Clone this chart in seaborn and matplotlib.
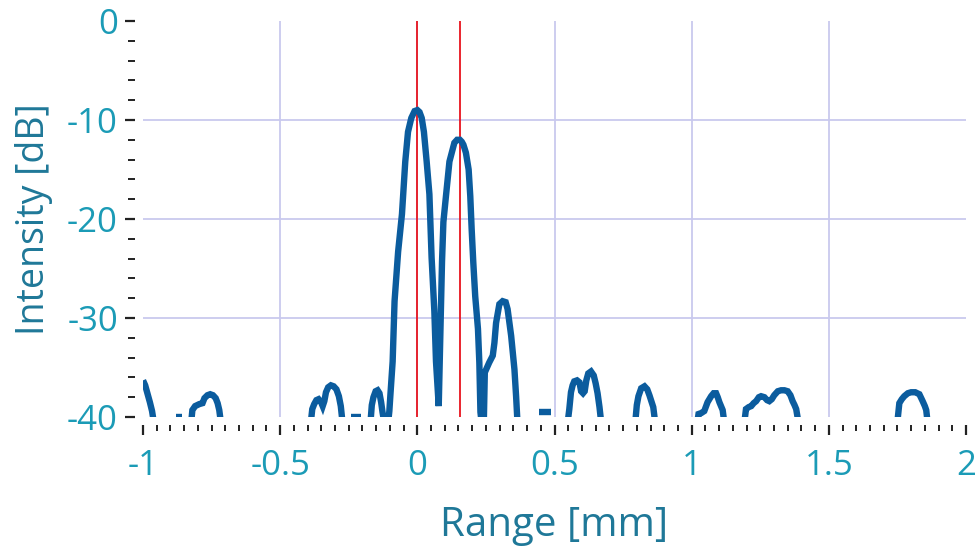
import numpy as np
import pandas as pd
import matplotlib
matplotlib.use("Agg")
import matplotlib.pyplot as plt
import seaborn as sns
from matplotlib.ticker import MultipleLocator, FixedLocator

# ---------------- data ----------------
seg_x = [
    [-1.0, -0.992, -0.982, -0.975, -0.967, -0.958],
    [-0.880, -0.858],
    [-0.826, -0.82, -0.81, -0.795, -0.783, -0.776, -0.765, -0.755, -0.745, -0.735, -0.728, -0.722, -0.714],
    [-0.39, -0.383, -0.376, -0.368, -0.36, -0.351, -0.345, -0.339, -0.333, -0.325, -0.315, -0.305, -0.295, -0.286, -0.279, -0.271],
    [-0.242, -0.205],
    [-0.172, -0.166, -0.16, -0.152, -0.145, -0.138, -0.132, -0.127, -0.118, -0.108, -0.102,
     -0.098, -0.090, -0.083, -0.070, -0.056, -0.044, -0.034, -0.022, -0.010, 0.0, 0.008,
     0.016, 0.024, 0.034, 0.044, 0.052, 0.062, 0.068, 0.078, 0.085, 0.090, 0.095, 0.105,
     0.117, 0.135, 0.145, 0.155, 0.162, 0.168, 0.177, 0.187, 0.193, 0.198, 0.204, 0.211,
     0.221, 0.226, 0.230, 0.236, 0.242, 0.246, 0.262, 0.275, 0.281, 0.287, 0.299, 0.311,
     0.322, 0.329, 0.342, 0.354, 0.360, 0.364, 0.368],
    [0.445, 0.489],
    [0.546, 0.554, 0.560, 0.566, 0.572, 0.582, 0.591, 0.597, 0.604, 0.610, 0.616, 0.623, 0.633, 0.643, 0.650, 0.657, 0.664, 0.672],
    [0.793, 0.800, 0.806, 0.816, 0.828, 0.838, 0.846, 0.853, 0.860, 0.869],
    [1.018, 1.025, 1.035, 1.046, 1.058, 1.071, 1.080, 1.089, 1.095, 1.101, 1.107, 1.113, 1.121],
    [1.190, 1.198, 1.208, 1.217, 1.226, 1.235, 1.245, 1.253, 1.265, 1.275, 1.283, 1.292, 1.301, 1.314, 1.326, 1.338, 1.350, 1.360, 1.368, 1.375, 1.381, 1.392],
    [1.748, 1.757, 1.766, 1.775, 1.788, 1.800, 1.815, 1.830, 1.842, 1.850, 1.855, 1.862],
]
seg_y = [
    [-36.3, -36.8, -37.8, -38.5, -39.4, -41],
    [-40.0, -40.0],
    [-41, -39.3, -38.9, -38.7, -38.6, -38.1, -37.8, -37.7, -37.8, -38.1, -38.6, -39.3, -41],
    [-41, -39.2, -38.7, -38.3, -38.2, -38.5, -38.9, -38.4, -37.5, -37.0, -36.8, -36.9, -37.2, -37.9, -38.9, -41],
    [-40.0, -40.0],
    [-41, -38.8, -38.0, -37.4, -37.3, -37.6, -38.5, -39.5, -41, -41, -39.4,
     -37.7, -34.4, -28.3, -23.3, -19.5, -14.2, -11.2, -9.8, -9.1, -9.0, -9.2,
     -9.8, -11.2, -14.2, -17.5, -23.9, -29.3, -34.4, -38.9, -30.3, -24.3, -20.3, -17.5,
     -14.2, -12.3, -12.0, -12.0, -12.2, -12.5, -13.3, -15.0, -17.7, -21.0, -24.4, -27.8,
     -31.1, -34.5, -39.5, -41, -41, -35.5, -34.5, -33.8, -32.5, -30.5, -28.6, -28.3,
     -28.4, -29.1, -31.8, -35.2, -37.9, -40.0, -41],
    [-39.5, -39.5],
    [-41, -39.2, -37.5, -36.8, -36.4, -36.3, -36.5, -37.4, -37.6, -37.4, -36.3, -35.6, -35.4, -35.8, -36.6, -37.6, -39.0, -41],
    [-41, -38.8, -37.9, -37.1, -36.9, -37.2, -37.8, -38.4, -39.0, -41],
    [-41, -39.7, -39.6, -39.4, -38.5, -37.9, -37.6, -37.6, -38.0, -38.5, -38.9, -39.3, -41],
    [-41, -39.2, -39.0, -38.9, -38.6, -38.4, -38.0, -37.9, -38.0, -38.3, -38.4, -38.2, -37.8, -37.4, -37.3, -37.3, -37.4, -37.8, -38.4, -38.8, -39.2, -41],
    [-41, -38.6, -38.2, -37.9, -37.6, -37.5, -37.5, -37.7, -38.4, -38.9, -39.3, -41],
]
marker_positions = [0.0, 0.155]
x_ticks = [-1, -0.5, 0, 0.5, 1, 1.5, 2]
x_tick_labels = ["-1", "-0.5", "0", "0.5", "1", "1.5", "2"]
y_ticks = [0, -10, -20, -30, -40]
y_tick_labels = ["0", "-10", "-20", "-30", "-40"]
x_label = "Range [mm]"
y_label = "Intensity [dB]"

df = pd.DataFrame({
    "Range": [v for s in seg_x for v in s],
    "Intensity": [v for s in seg_y for v in s],
    "seg": [i for i, s in enumerate(seg_x) for _ in s],
})

# ---------------- style ----------------
sns.set_theme(style="white")
plt.rcParams["font.family"] = ["Open Sans", "DejaVu Sans"]

LINE = "#0b5c9e"
TICKLBL = "#1b9bb6"
AXLBL = "#1f7898"
GRID = "#c9c9ee"
RED = "#e8141e"

fig = plt.figure(figsize=(9.77, 5.51), dpi=100)
ax = fig.add_axes([143 / 977, 1 - 417 / 551, 823 / 977, 396 / 551])

# interior grid lines
for xv in x_ticks[1:-1]:
    ax.axvline(xv, color=GRID, lw=1.3, zorder=0)
for yv in y_ticks[1:-1]:
    ax.axhline(yv, color=GRID, lw=1.3, zorder=0)

for xv in marker_positions:
    ax.axvline(xv, color=RED, lw=1.3, zorder=1)

sns.lineplot(data=df, x="Range", y="Intensity", units="seg", estimator=None,
             sort=False, color=LINE, lw=4.6, ax=ax, zorder=2)
for ln in ax.lines[-len(seg_x):]:
    ln.set_solid_joinstyle("miter")
    ln.set_solid_capstyle("butt")

ax.set_xlim(-1, 2)
ax.set_ylim(-40, 0)

ax.xaxis.set_major_locator(FixedLocator(x_ticks))
ax.set_xticklabels(x_tick_labels)
ax.xaxis.set_minor_locator(MultipleLocator(0.05))
ax.yaxis.set_major_locator(FixedLocator(y_ticks))
ax.set_yticklabels(y_tick_labels)
ax.yaxis.set_minor_locator(MultipleLocator(2))

for s in ax.spines.values():
    s.set_visible(False)
ax.spines["left"].set_position(("outward", 6))
ax.spines["bottom"].set_position(("outward", 6))

ax.tick_params(axis="x", which="major", direction="out", length=7, width=1.6,
               color="#222222", bottom=True, labelsize=25, labelcolor=TICKLBL, pad=10)
ax.tick_params(axis="x", which="minor", direction="out", length=4, width=1.4,
               color="#222222", bottom=True)
ax.tick_params(axis="y", which="major", direction="out", length=7, width=1.6,
               color="#222222", left=True, labelsize=25, labelcolor=TICKLBL, pad=5)
ax.tick_params(axis="y", which="minor", direction="out", length=5, width=1.4,
               color="#222222", left=True)

ax.set_xlabel(x_label, fontsize=29, color=AXLBL, labelpad=16)
ax.set_ylabel(y_label, fontsize=27, color=AXLBL, labelpad=10)

fig.savefig("out.png", dpi=100)
